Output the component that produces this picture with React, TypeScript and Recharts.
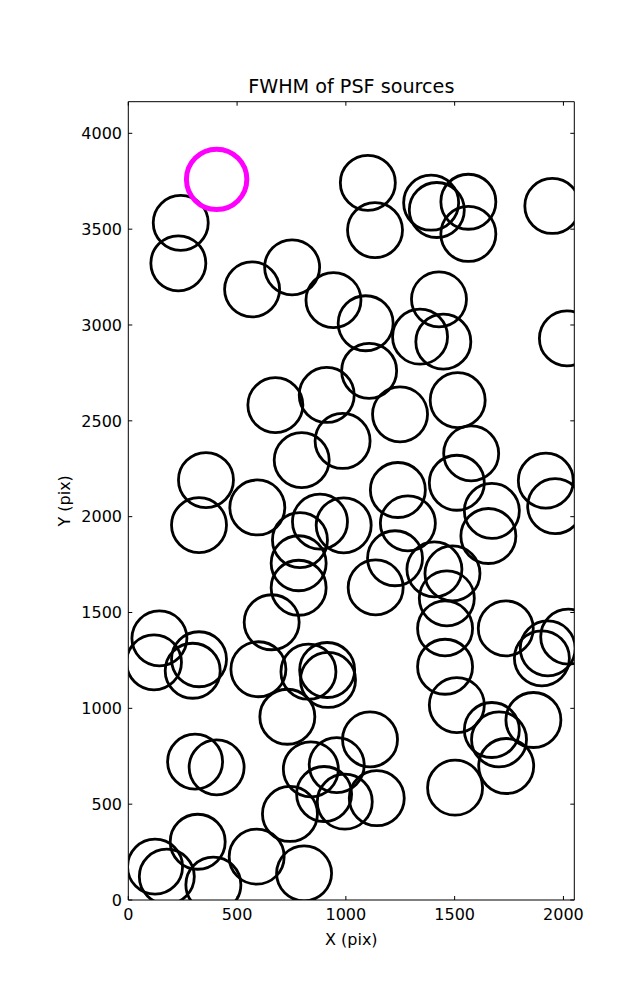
import React from 'react';
import { ScatterChart, Scatter, XAxis, YAxis } from 'recharts';

// axis setup
const xTicks = [0, 500, 1000, 1500, 2000];
const yTicks = [0, 500, 1000, 1500, 2000, 2500, 3000, 3500, 4000];
const xDomain = [0, 2050];
const yDomain = [0, 4165];

// PSF source positions (pix)
const sourceX = [
  241, 230, 569, 753, 1101, 1134, 1392, 1418, 1563, 1563, 1949,
  943, 1091, 1428, 1341, 1448, 2016, 1107, 912, 676, 1249, 1514,
  985, 797, 1576, 357, 1239, 1510, 1919, 593, 325, 881, 990, 1285,
  1671, 1962, 1655, 789, 783, 783, 1226, 1407, 1490, 1464, 1137,
  659, 1456, 1735, 143, 118, 325, 296, 598, 828, 914, 918, 1456,
  1928, 2022, 1901, 731, 1510, 1111, 1671, 1704, 1862, 307, 406,
  839, 958, 1737, 743, 900, 995, 1142, 1502, 319, 123, 177, 391,
  590, 808,
];
const sourceY = [
  3533, 3322, 3186, 3301, 3742, 3495, 3638, 3600, 3643, 3475, 3621,
  3130, 3009, 3134, 2939, 2913, 2930, 2761, 2635, 2582, 2534, 2608,
  2395, 2295, 2330, 2191, 2139, 2177, 2188, 2048, 1956, 1974, 1955, 1965,
  2030, 2055, 1899, 1878, 1757, 1629, 1783, 1725, 1704, 1574, 1631,
  1449, 1417, 1417, 1365, 1240, 1256, 1196, 1204, 1191, 1200, 1148, 1217,
  1313, 1374, 1261, 956, 1017, 838, 887, 838, 939, 722, 692,
  682, 704, 699, 449, 553, 513, 531, 586, 304, 174, 122, 80,
  226, 139,
];

// the one marked source
const markedX = [406];
const markedY = [3760];

const sources = sourceX.map((x, i) => ({ x, y: sourceY[i] }));
const marked = markedX.map((x, i) => ({ x, y: markedY[i] }));

const font = 'DejaVu Sans';
const tickStyle = { fill: '#000', fontSize: 16, fontFamily: font };

const Ring = (props: any) => (
  <circle cx={props.cx} cy={props.cy} r={27.5} fill="none" stroke="#000000" strokeWidth={2.8} />
);

const MarkedRing = (props: any) => (
  <circle cx={props.cx} cy={props.cy} r={30.2} fill="none" stroke="#ff00ff" strokeWidth={5} />
);

// keeps the top/right frame axes in use, draws nothing
const NoMark = () => <g />;

const XTitle = (p: any) => {
  const vb = p.viewBox || { x: 128.3, y: 900, width: 446 };
  return (
    <text x={vb.x + vb.width / 2} y={vb.y + 44.5} textAnchor="middle" fontSize={16} fontFamily={font} fill="#000">
      X (pix)
    </text>
  );
};

const YTitle = (p: any) => {
  const vb = p.viewBox || { y: 101.7, height: 798.3 };
  const cy = vb.y + vb.height / 2;
  return (
    <text x={70} y={cy} transform={`rotate(-90, 70, ${cy})`} textAnchor="middle" fontSize={16} fontFamily={font} fill="#000">
      Y (pix)
    </text>
  );
};

const Title = (p: any) => {
  const vb = p.viewBox || { x: 128.3, y: 101.7, width: 446 };
  const top = vb.y + (vb.height || 0);
  return (
    <text x={vb.x + vb.width / 2} y={top - 8.4} textAnchor="middle" fontSize={19.2} fontFamily={font} fill="#000">
      FWHM of PSF sources
    </text>
  );
};

const frameLine = { stroke: '#000', strokeWidth: 1 };

export default function App() {
  return (
    <div style={{ position: 'absolute', left: 0, top: 0, width: 637, height: 1000, background: '#fff' }}>
      <ScatterChart
        width={637}
        height={1000}
        margin={{ top: 100.7, right: 61.7, bottom: 40, left: 60.3 }}
      >
        <XAxis
          xAxisId="bottom"
          dataKey="x"
          type="number"
          domain={xDomain}
          ticks={xTicks}
          interval={0}
          allowDataOverflow
          height={60}
          tickSize={-4}
          tickMargin={13}
          tick={tickStyle}
          axisLine={frameLine}
          tickLine={frameLine}
          label={{ content: XTitle }}
        />
        <XAxis
          xAxisId="top"
          orientation="top"
          dataKey="x"
          type="number"
          domain={xDomain}
          ticks={xTicks}
          interval={0}
          allowDataOverflow
          height={1}
          tickSize={-4}
          tickFormatter={() => ''}
          axisLine={frameLine}
          tickLine={frameLine}
          label={{ content: Title }}
        />
        <YAxis
          yAxisId="left"
          dataKey="y"
          type="number"
          domain={yDomain}
          ticks={yTicks}
          interval={0}
          allowDataOverflow
          width={68}
          tickSize={-4}
          tickMargin={10.3}
          tick={tickStyle}
          axisLine={frameLine}
          tickLine={frameLine}
          label={{ content: YTitle }}
        />
        <YAxis
          yAxisId="right"
          orientation="right"
          dataKey="y"
          type="number"
          domain={yDomain}
          ticks={yTicks}
          interval={0}
          allowDataOverflow
          width={1}
          tickSize={-4}
          tickFormatter={() => ''}
          axisLine={frameLine}
          tickLine={frameLine}
        />
        <Scatter
          data={sources}
          xAxisId="bottom"
          yAxisId="left"
          shape={Ring}
          isAnimationActive={false}
        />
        <Scatter
          data={marked}
          xAxisId="bottom"
          yAxisId="left"
          shape={MarkedRing}
          isAnimationActive={false}
        />
        <Scatter
          data={marked}
          xAxisId="top"
          yAxisId="right"
          shape={NoMark}
          isAnimationActive={false}
        />
      </ScatterChart>
    </div>
  );
}
